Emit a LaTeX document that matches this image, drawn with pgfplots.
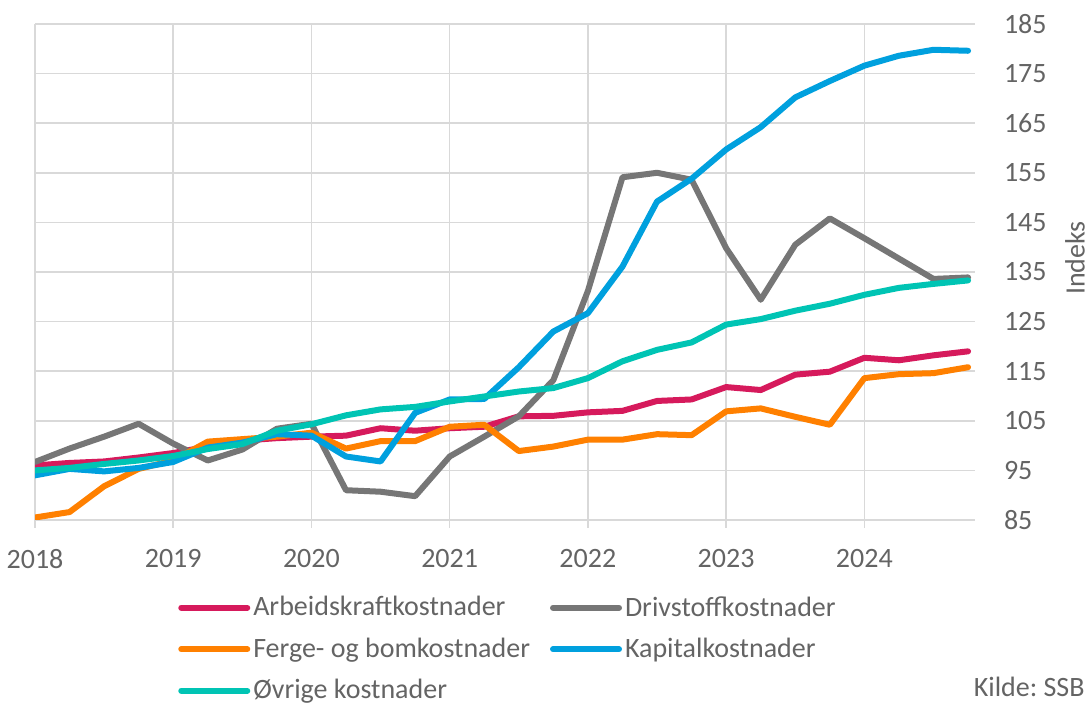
\documentclass[border=0pt]{standalone}
\usepackage{pgfplots}
\usepackage{pgfplotstable}
\pgfplotsset{compat=1.18}
\usepackage{fontspec}
\setmainfont{Carlito}
\frenchspacing

\definecolor{arb}{RGB}{214,26,92}
\definecolor{driv}{RGB}{118,118,118}
\definecolor{ferge}{RGB}{255,128,0}
\definecolor{kap}{RGB}{0,160,222}
\definecolor{ovr}{RGB}{0,196,180}
\definecolor{gridc}{RGB}{217,217,217}
\definecolor{textc}{RGB}{100,100,100}

\pgfplotstableread{
x       arb   driv  ferge kap   ovr
2018.00 96.0  96.7  85.5  94.0  95.0
2018.25 96.5  99.4  86.6  95.3  95.5
2018.50 96.8  101.8 91.8  94.8  96.3
2018.75 97.6  104.4 95.3  95.5  97.0
2019.00 98.5  100.4 97.0  96.7  97.9
2019.25 99.8  97.0  100.8 99.6  99.3
2019.50 101.0 99.2  101.3 100.6 100.3
2019.75 101.5 103.4 101.8 102.3 103.0
2020.00 101.8 104.4 102.6 102.0 104.3
2020.25 102.0 91.0  99.4  97.8  106.1
2020.50 103.5 90.7  100.9 96.8  107.3
2020.75 103.0 89.8  100.9 106.6 107.8
2021.00 103.5 97.8  103.8 109.3 108.9
2021.25 103.8 101.8 104.2 109.4 109.9
2021.50 105.9 105.9 98.9  115.8 110.9
2021.75 106.0 113.2 99.8  123.0 111.6
2022.00 106.7 131.2 101.2 126.7 113.6
2022.25 107.0 154.1 101.2 136.1 117.0
2022.50 109.0 155.0 102.3 149.2 119.3
2022.75 109.3 153.6 102.1 153.8 120.8
2023.00 111.8 139.8 106.9 159.7 124.4
2023.25 111.2 129.4 107.5 164.2 125.5
2023.50 114.3 140.5 105.8 170.2 127.2
2023.75 114.9 145.8 104.2 173.5 128.6
2024.00 117.7 141.8 113.6 176.6 130.4
2024.25 117.2 137.7 114.4 178.6 131.8
2024.50 118.2 133.6 114.6 179.8 132.6
2024.75 119.0 133.9 115.8 179.6 133.3
}\data

\begin{document}
\begin{tikzpicture}[font=\fontsize{14}{17}\selectfont, text=textc]
\useasboundingbox (-17.5pt,-92pt) rectangle (527pt,260pt);
\begin{axis}[
  scale only axis,
  width=470pt, height=248pt,
  xmin=2018, xmax=2024.8,
  ymin=85, ymax=185,
  xtick={2018,2019,...,2024},
  ytick={85,95,...,185},
  /pgf/number format/1000 sep=,
  /pgf/number format/assume math mode=true,
  ticklabel style={text=textc},
  yticklabel pos=right,
  ytick pos=right,
  xtick pos=left,
  tick align=outside,
  major tick length=4pt,
  y tick style={draw=none},
  x tick style={gridc, line width=0.75pt},
  xticklabel style={yshift=-7pt},
  yticklabel style={anchor=west, xshift=7pt},
  grid=major,
  major grid style={gridc, line width=0.75pt},
  axis line style={draw=none},
  legend columns=2,
  legend cell align=left,
  legend style={draw=none, fill=none, inner sep=0pt, row sep=5.5pt,
    at={(axis description cs:0.152,-0.145)}, anchor=north west,
    font=\fontsize{14}{17}\selectfont, text=textc,
    nodes={inner xsep=1.5pt},
    /tikz/every even column/.append style={column sep=8.5pt}},
  legend image code/.code={\draw[line width=3pt, line cap=round] (0pt,0pt) -- (33pt,0pt);},
  every axis plot/.append style={line width=3pt, line join=round, line cap=round},
]
\addplot[arb] table[x=x, y=arb] {\data};
\addlegendentry{Arbeidskraftkostnader}
\addplot[driv] table[x=x, y=driv] {\data};
\addlegendentry{Drivstoffkostnader}
\addplot[ferge] table[x=x, y=ferge] {\data};
\addlegendentry{Ferge- og bomkostnader}
\addplot[kap] table[x=x, y=kap] {\data};
\addlegendentry{Kapitalkostnader}
\addplot[ovr] table[x=x, y=ovr] {\data};
\addlegendentry{Øvrige kostnader}
\end{axis}
\node[rotate=90, anchor=center, text=textc] at (520pt,131pt) {Indeks};
\node[anchor=base east, inner sep=0pt, text=textc] at (525pt,-88.5pt) {Kilde: SSB};
\end{tikzpicture}
\end{document}
